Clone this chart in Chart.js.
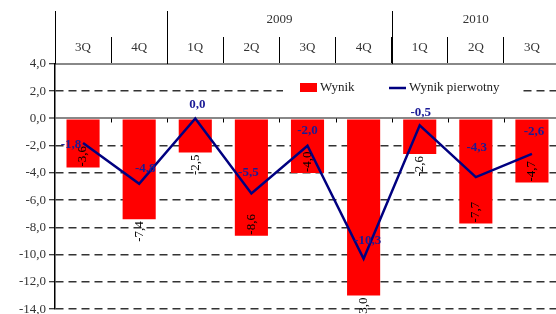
<!DOCTYPE html>
<html>
<head>
<meta charset="utf-8">
<script src="https://cdn.jsdelivr.net/npm/chart.js@4.4.1/dist/chart.umd.min.js"></script>
<style>
  html, body { margin: 0; padding: 0; background: #fff; }
  #wrap { width: 556px; height: 314px; overflow: hidden; }
  canvas { display: block; }
</style>
</head>
<body>
<div id="wrap"><canvas id="chart" width="566" height="320"></canvas></div>
<script>
var quarters = ['3Q', '4Q', '1Q', '2Q', '3Q', '4Q', '1Q', '2Q', '3Q'];
var years = ['', '2009', '2010'];
var yearStart = [0, 2, 6];
var wynik = [-3.6, -7.4, -2.5, -8.6, -4.0, -13.0, -2.6, -7.7, -4.7];
var wynikPierwotny = [-1.8, -4.8, 0.0, -5.5, -2.0, -10.3, -0.5, -4.3, -2.6];
var yMin = -14, yMax = 4, yStep = 2;

// label placement tweaks
var barLabelInside = [true, false, false, true, true, false, false, true, true];
var lineLabelShift = [[-12, 2], [6, -15], [2, -14], [-3, -21], [0, -15], [4, -18], [1, -13], [1, -29], [2, -22]];

var serif = "'Liberation Serif', 'Times New Roman', serif";

function fmt(v) {
  return Number(v).toFixed(1).replace('.', ',');
}

var decor = {
  id: 'decor',
  afterDatasetsDraw: function (chart) {
    var c = chart.ctx;
    var area = chart.chartArea;
    var xs = chart.scales.x, ys = chart.scales.y;
    var step = xs.getPixelForValue(1) - xs.getPixelForValue(0);
    var y0 = ys.getPixelForValue(0);

    c.save();
    // small ticks under zero line
    c.strokeStyle = '#000';
    c.lineWidth = 1;
    for (var i = 1; i <= quarters.length; i++) {
      var bx = Math.round(xs.getPixelForValue(i) - step / 2) + 0.5;
      c.beginPath();
      c.moveTo(bx, y0);
      c.lineTo(bx, y0 + 4);
      c.stroke();
    }

    // bar values, rotated
    var bars = chart.getDatasetMeta(1).data;
    c.font = '13px ' + serif;
    c.fillStyle = '#000';
    c.textBaseline = 'middle';
    bars.forEach(function (el, i) {
      c.save();
      c.translate(el.x, el.y);
      c.rotate(-Math.PI / 2);
      if (barLabelInside[i]) {
        c.textAlign = 'left';
        c.fillText(fmt(wynik[i]), 1, 0);
      } else {
        c.textAlign = 'right';
        c.fillText(fmt(wynik[i]), -2, 0);
      }
      c.restore();
    });

    // line values
    var pts = chart.getDatasetMeta(0).data;
    c.font = 'bold 13px ' + serif;
    c.fillStyle = '#1a1a96';
    c.textAlign = 'center';
    pts.forEach(function (p, i) {
      var s = lineLabelShift[i];
      c.fillText(fmt(wynikPierwotny[i]), p.x + s[0], p.y + s[1]);
    });

    // legend
    c.fillStyle = '#fff';
    c.fillRect(283, 78, 238, 22);
    c.fillStyle = '#ff0000';
    c.fillRect(300, 83, 17, 9);
    c.strokeStyle = '#000080';
    c.lineWidth = 2.5;
    c.beginPath();
    c.moveTo(389, 88);
    c.lineTo(406, 88);
    c.stroke();
    c.font = '13px ' + serif;
    c.fillStyle = '#222';
    c.textAlign = 'left';
    c.fillText(chart.data.datasets[1].label, 320, 88);
    c.fillText(chart.data.datasets[0].label, 409, 88);

    // year header
    c.strokeStyle = '#000';
    c.lineWidth = 1;
    c.fillStyle = '#333';
    c.textAlign = 'center';
    for (var k = 0; k < years.length; k++) {
      var a = xs.getPixelForValue(yearStart[k]) - step / 2;
      var endIdx = k + 1 < years.length ? yearStart[k + 1] : quarters.length;
      var b = xs.getPixelForValue(endIdx) - step / 2;
      var sx = Math.round(a) + 0.5;
      c.beginPath();
      c.moveTo(sx, 11);
      c.lineTo(sx, area.top);
      c.stroke();
      if (years[k]) c.fillText(years[k], (a + b) / 2, 20);
    }
    c.restore();
  }
};

var ctx = document.getElementById('chart').getContext('2d');
new Chart(ctx, {
  type: 'bar',
  data: {
    labels: quarters,
    datasets: [{
      type: 'line',
      label: 'Wynik pierwotny',
      data: wynikPierwotny,
      borderColor: '#000080',
      borderWidth: 2.5,
      pointRadius: 0,
      tension: 0,
      order: 0
    }, {
      type: 'bar',
      label: 'Wynik',
      data: wynik,
      backgroundColor: '#ff0000',
      barPercentage: 0.59,
      categoryPercentage: 1,
      order: 1
    }]
  },
  options: {
    responsive: false,
    animation: false,
    layout: { padding: { top: 11, right: 6, bottom: 9, left: 0 } },
    plugins: {
      legend: { display: false },
      tooltip: { enabled: false }
    },
    scales: {
      x: {
        position: 'top',
        offset: true,
        grid: { offset: true, drawOnChartArea: false, tickLength: 27, tickColor: '#000', tickWidth: 1 },
        border: { display: true, color: '#888', width: 2 },
        ticks: { padding: -18, color: '#333', maxRotation: 0, font: { family: serif, size: 13 } },
        afterFit: function (s) { s.height = 53; }
      },
      y: {
        min: yMin,
        max: yMax,
        ticks: {
          stepSize: yStep,
          padding: 3,
          color: '#333',
          font: { family: serif, size: 13 },
          callback: function (v) { return fmt(v); }
        },
        grid: {
          color: function (c) { return c.tick && c.tick.value === 0 ? '#888' : '#333'; },
          lineWidth: function (c) { return c.tick && c.tick.value === 0 ? 2 : 1.5; },
          tickLength: 6,
          tickColor: '#000',
          tickWidth: 1
        },
        border: {
          display: true,
          color: '#000',
          width: 1.5,
          dash: function (c) { return c.tick && c.tick.value !== 0 ? [8, 5] : []; }
        },
        afterFit: function (s) { s.width = 55; }
      }
    }
  },
  plugins: [decor]
});
</script>
</body>
</html>
